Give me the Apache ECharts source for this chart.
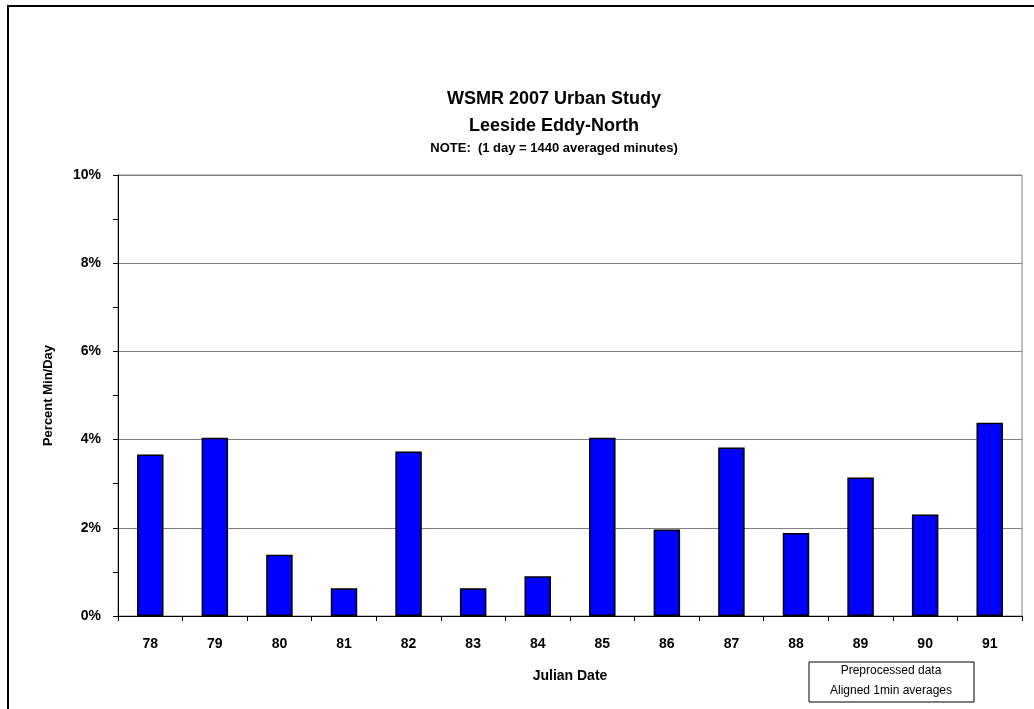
<!DOCTYPE html>
<html>
<head>
<meta charset="utf-8">
<script src="https://cdn.jsdelivr.net/npm/echarts@6/dist/echarts.min.js"></script>
<style>
  html, body { margin: 0; padding: 0; background: #fff; }
  #main { width: 1034px; height: 709px; }
</style>
</head>
<body>
<div id="main"></div>
<script>
var days = ['78', '79', '80', '81', '82', '83', '84', '85', '86', '87', '88', '89', '90', '91'];
var percentMin = [3.66, 4.04, 1.39, 0.63, 3.73, 0.63, 0.90, 4.04, 1.96, 3.82, 1.88, 3.14, 2.30, 4.38];
var titleLines = ['WSMR 2007 Urban Study', 'Leeside Eddy-North'];
var noteLine = 'NOTE:  (1 day = 1440 averaged minutes)';

var myChart = echarts.init(document.getElementById('main'));
var font = '"Liberation Sans", Arial, sans-serif';

var option = {
  backgroundColor: '#fff',
  textStyle: { fontFamily: font },
  animation: false,
  grid: {
    left: 118, right: 12, top: 175, bottom: 93,
    show: true, borderColor: '#808080', borderWidth: 1
  },
  graphic: [
    {
      type: 'rect', shape: { x: 8, y: 6, width: 1040, height: 720 },
      style: { fill: 'none', stroke: '#000', lineWidth: 2 }, z: -1
    },
    {
      type: 'text', x: 554, y: 99,
      style: { text: titleLines[0], font: 'bold 18px ' + font, fill: '#000', align: 'center', verticalAlign: 'middle' }
    },
    {
      type: 'text', x: 554, y: 126,
      style: { text: titleLines[1], font: 'bold 18px ' + font, fill: '#000', align: 'center', verticalAlign: 'middle' }
    },
    {
      type: 'text', x: 554, y: 148,
      style: { text: noteLine, font: 'bold 13px ' + font, fill: '#000', align: 'center', verticalAlign: 'middle' }
    },
    {
      type: 'rect', shape: { x: 809, y: 662, width: 165, height: 40 },
      style: { fill: '#fff', stroke: '#000', lineWidth: 1 }
    },
    {
      type: 'text', x: 891, y: 671,
      style: { text: 'Preprocessed data', font: '12px ' + font, fill: '#000', align: 'center', verticalAlign: 'middle' }
    },
    {
      type: 'text', x: 891, y: 691,
      style: { text: 'Aligned 1min averages', font: '12px ' + font, fill: '#000', align: 'center', verticalAlign: 'middle' }
    }
  ],
  xAxis: {
    type: 'category',
    data: days,
    name: 'Julian Date',
    nameLocation: 'middle',
    nameGap: 53,
    nameTextStyle: { fontSize: 14, fontWeight: 'bold', color: '#000' },
    axisLine: { lineStyle: { color: '#000', width: 1 } },
    axisTick: { show: true, length: 5, lineStyle: { color: '#000' } },
    axisLabel: { fontSize: 14, fontWeight: 'bold', color: '#000', margin: 21 }
  },
  yAxis: {
    type: 'value',
    min: 0, max: 10, interval: 2,
    name: 'Percent Min/Day',
    nameLocation: 'middle',
    nameGap: 63,
    nameTextStyle: { fontSize: 13, fontWeight: 'bold', color: '#000' },
    axisLine: { show: true, lineStyle: { color: '#000', width: 1 } },
    axisTick: { show: true, length: 5, lineStyle: { color: '#000' } },
    minorTick: { show: true, splitNumber: 2, length: 5, lineStyle: { color: '#000' } },
    splitLine: { show: true, lineStyle: { color: '#808080', width: 1 } },
    axisLabel: { fontSize: 14, fontWeight: 'bold', color: '#000', margin: 17, formatter: '{value}%' }
  },
  series: [{
    type: 'bar',
    data: percentMin,
    barWidth: '41%',
    itemStyle: { color: '#0000FF', borderColor: '#000', borderWidth: 1.5 }
  }]
};
myChart.setOption(option);
</script>
</body>
</html>
